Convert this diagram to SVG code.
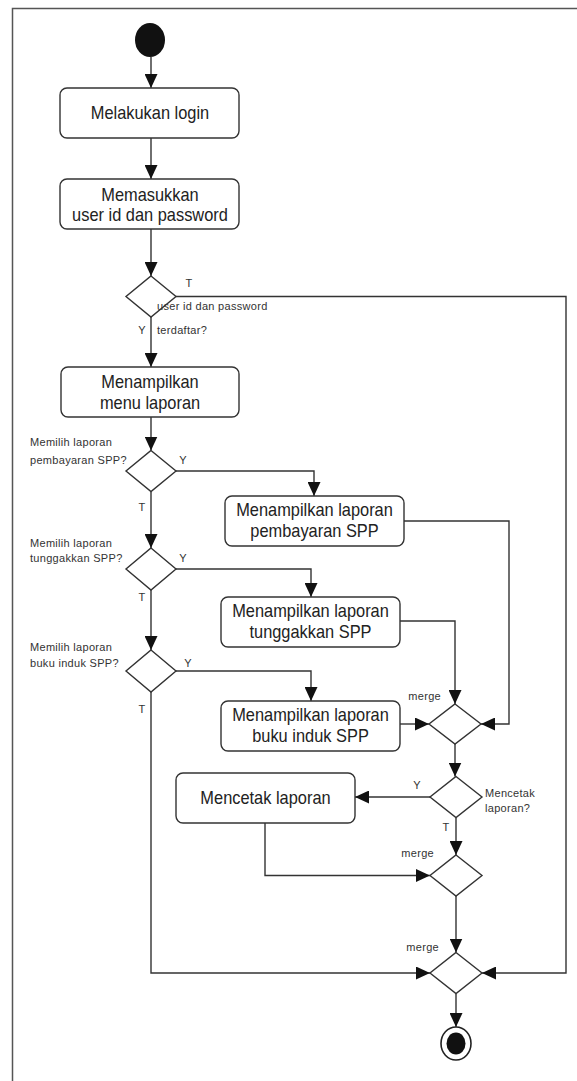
<svg xmlns="http://www.w3.org/2000/svg" width="577" height="1081" viewBox="0 0 577 1081">
  <style>
    .frame { fill: none; stroke: #555; stroke-width: 1.5; }
    .act rect { fill: #fff; stroke: #333; stroke-width: 1.4; }
    .act text { font-family: "Liberation Sans", Arial, sans-serif; font-size: 16.4px; fill: #222; text-anchor: middle; }
    .dec polygon { fill: #fff; stroke: #333; stroke-width: 1.4; }
    .lbl { font-family: "Liberation Sans", Arial, sans-serif; font-size: 11px; letter-spacing: 0.3px; fill: #333; }
    .mid { text-anchor: middle; }
    .end { text-anchor: end; }
    .edges path { fill: none; stroke: #333; stroke-width: 1.4; marker-end: url(#head); }
  </style>
  <defs>
    <marker id="head" markerUnits="userSpaceOnUse" markerWidth="14" markerHeight="13" refX="14" refY="6.5" orient="auto">
      <path d="M0,0 L14,6.5 L0,13 z" fill="#111"/>
    </marker>
  </defs>

  <!-- frame -->
  <path class="frame" d="M12.5,1081 V8.5 H577"/>

  <!-- connectors -->
  <g class="edges">
    <path d="M151,57 V88"/>
    <path d="M151,138 V179"/>
    <path d="M151,229 V276"/>
    <path d="M176,296.5 H566 V973 H482"/>
    <path d="M151,317 V367"/>
    <path d="M151,417 V450.5"/>
    <path d="M176,471 H314 V496"/>
    <path d="M151,491.5 V548"/>
    <path d="M176,569 H311 V597"/>
    <path d="M151,590 V650"/>
    <path d="M176,671 H311 V701"/>
    <path d="M151,692 V973 H430"/>
    <path d="M404,521 H509 V724 H481"/>
    <path d="M400,621 H455 V704"/>
    <path d="M400,724 H429"/>
    <path d="M455,744 V776.5"/>
    <path d="M430,797 H355"/>
    <path d="M456,817.5 V855"/>
    <path d="M265,823 V875.5 H430"/>
    <path d="M456,896 V952.5"/>
    <path d="M456,993.5 V1027"/>
  </g>

  <!-- start -->
  <g id="start">
    <ellipse cx="150" cy="40" rx="15" ry="17" fill="#111"/>
  </g>

  <!-- activity labels are stretched slightly upright (tall narrow lettering) -->
  <g id="login" class="act">
    <rect x="60" y="88" width="179" height="50" rx="7"/>
    <text transform="translate(150 119) scale(1 1.13)">Melakukan login</text>
  </g>

  <g id="input" class="act">
    <rect x="60" y="179" width="179" height="50" rx="7"/>
    <text transform="translate(150 200.5) scale(1 1.13)">Memasukkan</text>
    <text transform="translate(150 221) scale(1 1.13)">user id dan password</text>
  </g>

  <g id="check-user" class="dec">
    <polygon points="151,276 176,296.5 151,317 126,296.5"/>
    <text class="lbl mid" x="189" y="287">T</text>
    <text class="lbl" x="157" y="310">user id dan password</text>
    <text class="lbl" x="157" y="334">terdaftar?</text>
    <text class="lbl mid" x="142" y="334">Y</text>
  </g>

  <g id="menu" class="act">
    <rect x="61" y="367" width="178" height="50" rx="7"/>
    <text transform="translate(150 388) scale(1 1.13)">Menampilkan</text>
    <text transform="translate(150 409) scale(1 1.13)">menu laporan</text>
  </g>

  <g id="choose-pay" class="dec">
    <polygon points="151,450.5 176,471 151,491.5 126,471"/>
    <text class="lbl" x="30" y="446">Memilih laporan</text>
    <text class="lbl" x="30" y="464">pembayaran SPP?</text>
    <text class="lbl mid" x="183" y="464">Y</text>
    <text class="lbl mid" x="142" y="511">T</text>
  </g>

  <g id="show-pay" class="act">
    <rect x="225" y="496" width="179" height="50" rx="7"/>
    <text transform="translate(314.5 516) scale(1 1.13)">Menampilkan laporan</text>
    <text transform="translate(314.5 537) scale(1 1.13)">pembayaran SPP</text>
  </g>

  <g id="choose-arrears" class="dec">
    <polygon points="151,548 176,569 151,590 126,569"/>
    <text class="lbl" x="30" y="547">Memilih laporan</text>
    <text class="lbl" x="30" y="562">tunggakkan SPP?</text>
    <text class="lbl mid" x="183" y="562">Y</text>
    <text class="lbl mid" x="142" y="601">T</text>
  </g>

  <g id="show-arrears" class="act">
    <rect x="221" y="597" width="179" height="50" rx="7"/>
    <text transform="translate(310.5 617) scale(1 1.13)">Menampilkan laporan</text>
    <text transform="translate(310.5 638) scale(1 1.13)">tunggakkan SPP</text>
  </g>

  <g id="choose-ledger" class="dec">
    <polygon points="151,650 176,671 151,692 126,671"/>
    <text class="lbl" x="30" y="651">Memilih laporan</text>
    <text class="lbl" x="30" y="667">buku induk SPP?</text>
    <text class="lbl mid" x="188" y="667">Y</text>
    <text class="lbl mid" x="142" y="713">T</text>
  </g>

  <g id="show-ledger" class="act">
    <rect x="221" y="701" width="179" height="50" rx="7"/>
    <text transform="translate(310.5 721) scale(1 1.13)">Menampilkan laporan</text>
    <text transform="translate(310.5 742) scale(1 1.13)">buku induk SPP</text>
  </g>

  <g id="merge-reports" class="dec">
    <polygon points="455,704 481,724 455,744 429,724"/>
    <text class="lbl end" x="441" y="700">merge</text>
  </g>

  <g id="ask-print" class="dec">
    <polygon points="456,776.5 482,797 456,817.5 430,797"/>
    <text class="lbl mid" x="417" y="789">Y</text>
    <text class="lbl" x="485" y="797">Mencetak</text>
    <text class="lbl" x="485" y="812">laporan?</text>
    <text class="lbl mid" x="446" y="831">T</text>
  </g>

  <g id="print" class="act">
    <rect x="176" y="773" width="179" height="50" rx="7"/>
    <text transform="translate(265.5 804) scale(1 1.13)">Mencetak laporan</text>
  </g>

  <g id="merge-print" class="dec">
    <polygon points="456,855 482,875.5 456,896 430,875.5"/>
    <text class="lbl end" x="434" y="857">merge</text>
  </g>

  <g id="merge-final" class="dec">
    <polygon points="456,952.5 482,973 456,993.5 430,973"/>
    <text class="lbl end" x="439" y="951">merge</text>
  </g>

  <g id="finish">
    <ellipse cx="456" cy="1043.5" rx="15" ry="16.5" fill="#fff" stroke="#222" stroke-width="1.6"/>
    <ellipse cx="456" cy="1043.5" rx="9.5" ry="11" fill="#111"/>
  </g>
</svg>
